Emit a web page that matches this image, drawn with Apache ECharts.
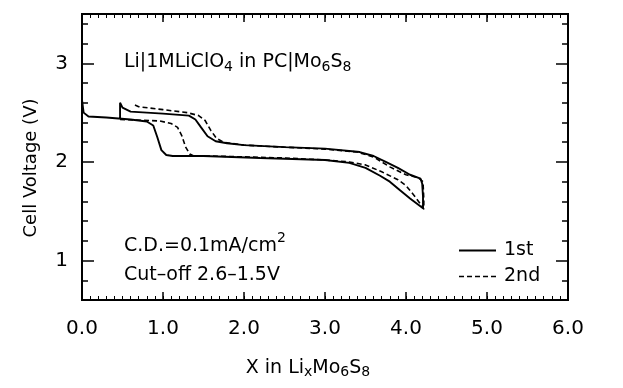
<!DOCTYPE html>
<html>
<head>
<meta charset="utf-8">
<script src="https://cdn.jsdelivr.net/npm/echarts@6/dist/echarts.min.js"></script>
<style>
  html, body { margin: 0; padding: 0; background: #fff; }
  #chart { width: 623px; height: 388px; }
</style>
</head>
<body>
<div id="chart"></div>
<script>
// first cycle: discharge from X=0, charge back to X~0.47, then rest drop
const cycle1 = [
  [0, 2.63], [0.02, 2.5], [0.08, 2.46], [0.3, 2.45], [0.6, 2.43], [0.8, 2.41],
  [0.88, 2.37], [0.93, 2.25], [0.98, 2.12], [1.04, 2.07], [1.12, 2.06], [1.5, 2.06],
  [2.2, 2.04], [3.0, 2.02], [3.3, 1.99], [3.5, 1.94], [3.68, 1.86], [3.8, 1.8],
  [3.93, 1.71], [4.05, 1.63], [4.21, 1.53], [4.22, 1.52],
  [4.21, 1.65], [4.2, 1.78], [4.18, 1.83], [4.05, 1.87], [3.9, 1.94], [3.75, 2.0],
  [3.6, 2.06], [3.43, 2.1], [3.0, 2.135], [2.5, 2.15], [2.0, 2.17], [1.79, 2.19],
  [1.65, 2.21], [1.55, 2.26], [1.47, 2.35], [1.4, 2.43], [1.32, 2.47], [1.0, 2.49],
  [0.6, 2.51], [0.5, 2.55], [0.47, 2.6], [0.47, 2.43]
]

// second cycle: discharge from X~0.47, charge back to X~0.62
const cycle2 = [
  [0.47, 2.43], [0.85, 2.42], [0.96, 2.415], [1.1, 2.39], [1.18, 2.35], [1.23, 2.27],
  [1.28, 2.15], [1.33, 2.08], [1.38, 2.06], [1.6, 2.06], [2.5, 2.04], [3.0, 2.02],
  [3.3, 2.0], [3.5, 1.97], [3.7, 1.9], [3.9, 1.82], [4.0, 1.76], [4.1, 1.66],
  [4.2, 1.55], [4.22, 1.52],
  [4.22, 1.62], [4.21, 1.8], [4.15, 1.84], [4.0, 1.87], [3.8, 1.95], [3.6, 2.05],
  [3.4, 2.1], [3.0, 2.13], [2.0, 2.17], [1.75, 2.2], [1.66, 2.24], [1.59, 2.32],
  [1.52, 2.42], [1.44, 2.47], [1.3, 2.5], [1.0, 2.53], [0.7, 2.56], [0.62, 2.59]
]

const seriesNames = ['1st', '2nd']
const yMajor = [1, 2, 3]

const font = 'DejaVu Sans, Liberation Sans, sans-serif'
const black = '#000'

// legend icons: plain line and dashed line, no symbol
const solidIcon = 'path://M0,0H37V1.8H0Z'
const dashedIcon = 'path://M0,0H5V1.6H0Z M8,0H13V1.6H8Z M16,0H21V1.6H16Z M24,0H29V1.6H24Z M32,0H37V1.6H32Z'

const chart = echarts.init(document.getElementById('chart'))

const axisLine = { show: true, onZero: false, lineStyle: { color: black, width: 2 } }
const xBase = {
  type: 'value',
  min: 0,
  max: 6,
  axisLine,
  splitLine: { show: false },
  axisLabel: { show: false },
}
const yBase = {
  type: 'value',
  min: 0.6,
  max: 3.5,
  axisLine,
  splitLine: { show: false },
  axisLabel: { show: false },
}

chart.setOption({
  animation: false,
  grid: { left: 82, right: 55, top: 14, bottom: 88 },
  xAxis: [
    {
      ...xBase,
      position: 'bottom',
      interval: 1,
      axisTick: { inside: true, length: 8, lineStyle: { color: black, width: 1.5 } },
      axisLabel: {
        show: true,
        margin: 19,
        showMinLabel: true,
        showMaxLabel: true,
        color: black,
        fontFamily: font,
        fontSize: 20,
        formatter: (v) => v.toFixed(1),
      },
    },
    { ...xBase, position: 'bottom', interval: 0.1, axisTick: { inside: true, length: 4, lineStyle: { color: black } } },
    { ...xBase, position: 'top', interval: 1, axisTick: { inside: true, length: 8, lineStyle: { color: black, width: 1.5 } } },
    { ...xBase, position: 'top', interval: 0.1, axisTick: { inside: true, length: 4, lineStyle: { color: black } } },
  ],
  yAxis: [
    { ...yBase, position: 'left', interval: 0.2, axisTick: { inside: true, length: 6, lineStyle: { color: black, width: 1.5 } } },
    {
      ...yBase,
      position: 'left',
      axisTick: { inside: true, length: 12, customValues: yMajor, lineStyle: { color: black, width: 1.5 } },
      axisLabel: {
        show: true,
        customValues: yMajor,
        margin: 14,
        color: black,
        fontFamily: font,
        fontSize: 20,
      },
    },
    { ...yBase, position: 'right', interval: 0.2, axisTick: { inside: true, length: 6, lineStyle: { color: black, width: 1.5 } } },
    { ...yBase, position: 'right', axisTick: { inside: true, length: 12, customValues: yMajor, lineStyle: { color: black, width: 1.5 } } },
  ],
  legend: {
    orient: 'vertical',
    left: 454,
    top: 236,
    itemWidth: 37,
    itemHeight: 1.8,
    itemGap: 7,
    textStyle: { color: black, fontFamily: font, fontSize: 19, padding: [0, 0, 0, 3] },
    data: [
      { name: seriesNames[0], icon: solidIcon },
      { name: seriesNames[1], icon: dashedIcon },
    ],
  },
  series: [
    {
      name: seriesNames[0],
      type: 'line',
      data: cycle1,
      symbol: 'none',
      lineStyle: { color: black, width: 1.9 },
      itemStyle: { color: black },
    },
    {
      name: seriesNames[1],
      type: 'line',
      data: cycle2,
      symbol: 'none',
      lineStyle: { color: black, width: 1.6, type: [5, 3] },
      itemStyle: { color: black },
    },
  ],
  graphic: [
    {
      type: 'text',
      left: 124,
      top: 53,
      style: {
        text: '{n|Li|1MLiClO}{s|4}{n| in PC|Mo}{s|6}{n|S}{s|8}',
        fill: black,
        rich: {
          n: { fontFamily: font, fontSize: 19, lineHeight: 23 },
          s: { fontFamily: font, fontSize: 14, lineHeight: 14, verticalAlign: 'bottom' },
        },
      },
    },
    {
      type: 'text',
      left: 124,
      top: 231,
      style: {
        text: '{n|C.D.=0.1mA/cm}{p|2}',
        fill: black,
        rich: {
          n: { fontFamily: font, fontSize: 19, lineHeight: 25, verticalAlign: 'bottom' },
          p: { fontFamily: font, fontSize: 14, lineHeight: 14, verticalAlign: 'top' },
        },
      },
    },
    {
      type: 'text',
      left: 124,
      top: 266,
      style: { text: 'Cut–off 2.6–1.5V', fill: black, fontFamily: font, fontSize: 19 },
    },
    {
      type: 'text',
      x: 31,
      y: 168,
      rotation: Math.PI / 2,
      style: {
        text: 'Cell Voltage (V)',
        fill: black,
        fontFamily: font,
        fontSize: 18,
        align: 'center',
        verticalAlign: 'middle',
      },
    },
    {
      type: 'text',
      x: 308,
      y: 368,
      style: {
        text: '{n|X in Li}{s|x}{n|Mo}{s|6}{n|S}{s|8}',
        fill: black,
        align: 'center',
        verticalAlign: 'middle',
        rich: {
          n: { fontFamily: font, fontSize: 19, lineHeight: 23 },
          s: { fontFamily: font, fontSize: 14, lineHeight: 14, verticalAlign: 'bottom' },
        },
      },
    },
  ],
})
</script>
</body>
</html>
